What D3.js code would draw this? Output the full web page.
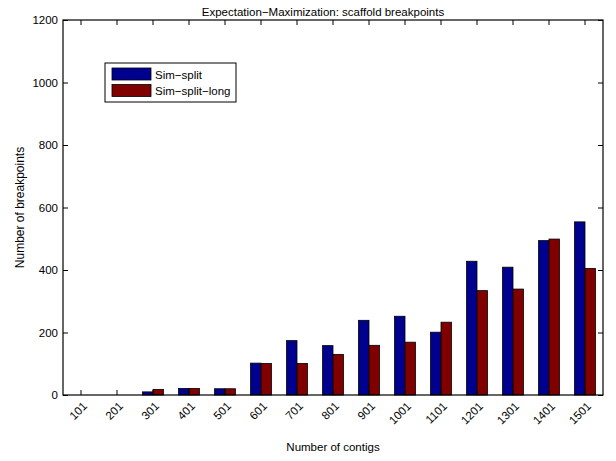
<!DOCTYPE html>
<html>
<head>
<meta charset="utf-8">
<script src="https://cdn.jsdelivr.net/npm/d3@7"></script>
<style>
  html, body { margin: 0; padding: 0; background: #fff; }
  svg { display: block; font-family: "Liberation Sans", Arial, Helvetica, sans-serif; }
</style>
</head>
<body>
<svg id="chart" width="616" height="461"></svg>
<script>
// Number of contigs per run
const categories = ["101","201","301","401","501","601","701","801","901","1001","1101","1201","1301","1401","1501"];
// Breakpoints found for each simulation set
const simSplit     = [0, 0, 10, 21, 20, 102, 174, 158, 239, 252, 201, 428, 409, 494, 554];
const simSplitLong = [0, 0, 18, 21, 20, 101, 101, 130, 159, 169, 233, 334, 339, 499, 405];
const seriesNames  = ["Sim-split", "Sim-split-long"];
const seriesColors = ["#00008f", "#800000"];
const yTicks = [0, 200, 400, 600, 800, 1000, 1200];

const svg = d3.select("#chart");
const margin = { left: 63, right: 13, top: 20, bottom: 66 };
const W = 616, H = 461;
const pw = W - margin.left - margin.right;
const ph = H - margin.top - margin.bottom;
const fs = 11.5;

const g = svg.append("g").attr("transform", `translate(${margin.left},${margin.top})`);

// categorical band for each group, with half a slot of padding at the ends
const x = d3.scaleBand().domain(categories).range([0, pw]).paddingInner(0).paddingOuter(0);
const y = d3.scaleLinear().domain([0, 1200]).range([ph, 0]);

const step = x.bandwidth();
const barW = step * 0.29;
const offsets = [-barW, 0];

const series = [simSplit, simSplitLong];
series.forEach((vals, si) => {
  g.append("g").selectAll("rect")
    .data(vals.map((v, i) => ({ c: categories[i], v })))
    .join("rect")
    .attr("x", d => x(d.c) + step / 2 + offsets[si])
    .attr("y", d => y(d.v))
    .attr("width", barW)
    .attr("height", d => y(0) - y(d.v))
    .attr("fill", seriesColors[si])
    .attr("stroke", "#000")
    .attr("stroke-width", 0.8);
});

// axes with inward ticks on all four sides
const tickLen = 5;
const xAxis = d3.axisBottom(x).tickSizeInner(-tickLen).tickSizeOuter(0);
const xg = g.append("g").attr("transform", `translate(0,${ph})`).call(xAxis);
xg.selectAll("text")
  .attr("font-size", fs)
  .attr("fill", "#000")
  .attr("text-anchor", "end")
  .attr("x", 0).attr("y", 0)
  .attr("dy", "0.35em")
  .attr("transform", "translate(4,9) rotate(-45)");

const xTop = d3.axisTop(x).tickSizeInner(-tickLen).tickSizeOuter(0).tickFormat("");
g.append("g").call(xTop);

const yAxis = d3.axisLeft(y).tickValues(yTicks).tickFormat(d3.format("d"))
  .tickSizeInner(-tickLen).tickSizeOuter(0).tickPadding(5);
const yg = g.append("g").call(yAxis);
yg.selectAll("text").attr("font-size", fs).attr("fill", "#000");

const yRight = d3.axisRight(y).tickValues(yTicks).tickSizeInner(-tickLen).tickSizeOuter(0).tickFormat("");
g.append("g").attr("transform", `translate(${pw},0)`).call(yRight);

g.selectAll(".domain").remove();
g.selectAll(".tick line").attr("stroke", "#000").attr("stroke-width", 1);

// frame
g.append("rect").attr("x", 0).attr("y", 0).attr("width", pw).attr("height", ph)
  .attr("fill", "none").attr("stroke", "#000").attr("stroke-width", 1.2);

// titles
svg.append("text").attr("x", 323).attr("y", 16)
  .attr("text-anchor", "middle").attr("font-size", fs).text("Expectation\u2212Maximization: scaffold breakpoints");
svg.append("text").attr("x", 333).attr("y", 451)
  .attr("text-anchor", "middle").attr("font-size", fs).text("Number of contigs");
svg.append("text").attr("transform", `translate(24,${margin.top + ph / 2}) rotate(-90)`)
  .attr("text-anchor", "middle").attr("font-size", 12).text("Number of breakpoints");

// legend
const lg = svg.append("g").attr("transform", "translate(105,63)");
lg.append("rect").attr("width", 131).attr("height", 39).attr("fill", "#fff")
  .attr("stroke", "#000").attr("stroke-width", 1);
seriesNames.forEach((name, i) => {
  const row = lg.append("g").attr("transform", `translate(7,${5 + i * 16.5})`);
  row.append("rect").attr("width", 39).attr("height", 12)
    .attr("fill", seriesColors[i]).attr("stroke", "#000").attr("stroke-width", 0.8);
  row.append("text").attr("x", 43).attr("y", 10.5).attr("font-size", fs).text(name.replace(/-/g, "\u2212"));
});
</script>
</body>
</html>
